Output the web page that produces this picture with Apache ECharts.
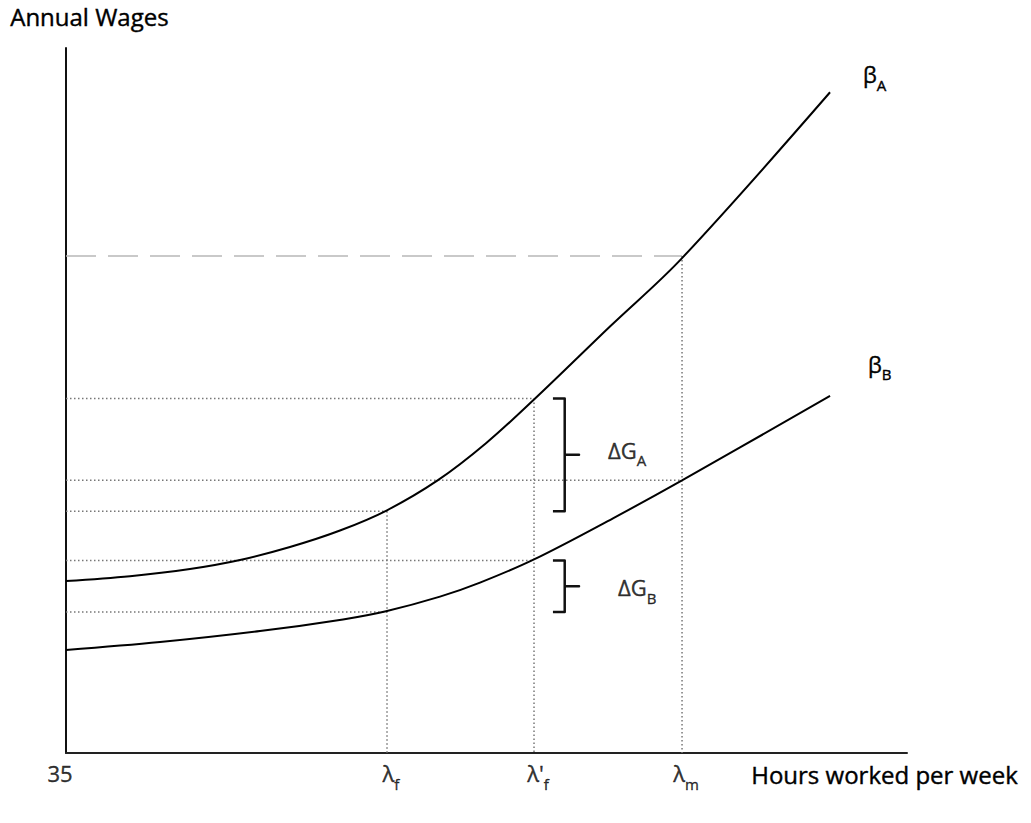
<!DOCTYPE html>
<html>
<head>
<meta charset="utf-8">
<title>Annual Wages</title>
<script src="https://cdn.jsdelivr.net/npm/echarts@6/dist/echarts.min.js"></script>
<style>
html, body { margin: 0; padding: 0; background: #fff; }
#main { width: 1031px; height: 823px; }
</style>
</head>
<body>
<div id="main"></div>
<script>
// curve points (x: hours scale 0-100, y: wage scale 0-100)
var curveAx = [0, 7.61, 14.74, 20.69, 26.63, 32.58, 38.17, 44.23, 49.94, 55.65, 64.68, 73.25, 90.85];
var curveAy = [24.40, 25.08, 26.10, 27.38, 29.22, 31.56, 34.43, 38.70, 43.94, 50.14, 60.50, 70.20, 93.72];
var curveBx = [0, 11.18, 23.07, 32.94, 38.05, 44.47, 49.23, 55.65, 65.04, 73.25, 90.85];
var curveBy = [14.61, 15.74, 17.30, 18.95, 20.11, 22.18, 24.17, 27.46, 33.29, 38.67, 50.64];

// lambda_f, lambda'_f, lambda_m on the hours axis
var lambdaX = [38.17, 55.65, 73.25];
var lambdaLabels = ['{m|λ}{s|f}', "{m|λ'}{s|f}", '{m|λ}{s|m}'];
// wage of each curve at those hours
var wageA = [34.3, 50.3, 70.5];
var wageB = [20.0, 27.3, 38.7];
var originLabel = '35';

var font = '"Open Sans", sans-serif';
// main glyphs hang from the top, subscripts sit at the bottom of a taller line
var ink = { color: '#000', textBorderColor: '#000', textBorderWidth: 0.4 };
var rich = {
	m: Object.assign({ fontSize: 22, fontFamily: font, lineHeight: 24, verticalAlign: 'top' }, ink),
	s: Object.assign({ fontSize: 15, fontFamily: font, lineHeight: 29, verticalAlign: 'bottom' }, ink)
};

function pairs(xs, ys) {
	var out = [];
	for (var i = 0; i < xs.length; i++) {
		out.push([xs[i], ys[i]]);
	}
	return out;
}

function guide(points, dashed) {
	return {
		type: 'line',
		data: points,
		symbol: 'none',
		silent: true,
		z: 1,
		lineStyle: dashed
			? { color: '#b8b8b8', width: 1.5, type: [30, 12] }
			: { color: '#777', width: 1.5, type: [1.5, 2.5] }
	};
}

// bracket drawn between the values at lambda_f and lambda'_f
var bracketX = [57.9, 59.3, 61.0];
function bracket(low, high) {
	var mid = (low + high) / 2;
	return {
		type: 'line',
		data: [[bracketX[0], high], [bracketX[1], high], [bracketX[1], mid],
			[bracketX[2], mid], [bracketX[1], mid], [bracketX[1], low], [bracketX[0], low]],
		symbol: 'none',
		silent: true,
		lineStyle: { color: '#111', width: 2.5, join: 'round' }
	};
}

function curve(xs, ys, name, off) {
	return {
		type: 'line',
		data: pairs(xs, ys),
		smooth: 0.35,
		symbol: 'none',
		z: 5,
		lineStyle: { color: '#000', width: 2 },
		endLabel: { show: true, formatter: '{m|β}{s|' + name + '}', rich: rich, color: '#000', distance: 0, offset: off }
	};
}

var series = [];
// guides to the axes
for (var i = 0; i < 3; i++) {
	series.push(guide([[0, wageA[i]], [lambdaX[i], wageA[i]]], i == 2));
	series.push(guide([[0, wageB[i]], [lambdaX[i], wageB[i]]], false));
	series.push(guide([[lambdaX[i], wageA[i]], [lambdaX[i], 0]], false));
}

series.push(curve(curveAx, curveAy, 'A', [33, -14.5]));
series.push(curve(curveBx, curveBy, 'B', [38, -28.5]));

series.push(bracket(wageA[0], wageA[1]));
series.push(bracket(wageB[0], wageB[1]));

// labels under the hours axis
var tickData = [{ value: [0, 0], label: { formatter: '{m|' + originLabel + '}', offset: [-6, 0] } }];
for (var j = 0; j < 3; j++) {
	tickData.push({ value: [lambdaX[j], 0], label: { formatter: lambdaLabels[j], offset: [4, 0] } });
}
series.push({
	type: 'scatter',
	data: tickData,
	symbolSize: 0,
	silent: true,
	label: { show: true, position: 'bottom', distance: 9, rich: rich, color: '#000' }
});

// gap labels next to the brackets
series.push({
	type: 'scatter',
	data: [
		{ value: [bracketX[2], (wageA[0] + wageA[1]) / 2], label: { formatter: '{m|ΔG}{s|A}', offset: [29, -1.5] } },
		{ value: [bracketX[2], (wageB[0] + wageB[1]) / 2], label: { formatter: '{m|ΔG}{s|B}', offset: [39, 4.5] } }
	],
	symbolSize: 0,
	silent: true,
	label: { show: true, position: 'right', distance: 0, rich: rich, color: '#000' }
});

var titleFont = '24px "Open Sans", sans-serif';
var chart = echarts.init(document.getElementById('main'), null, { renderer: 'svg' });
chart.setOption({
	animation: false,
	backgroundColor: '#fff',
	grid: { left: 66, top: 48, right: 124, bottom: 70 },
	xAxis: {
		type: 'value', min: 0, max: 100,
		axisLine: { show: true, lineStyle: { color: '#222', width: 2 } },
		axisTick: { show: false }, axisLabel: { show: false }, splitLine: { show: false }
	},
	yAxis: {
		type: 'value', min: 0, max: 100,
		axisLine: { show: true, lineStyle: { color: '#111', width: 2 } },
		axisTick: { show: false }, axisLabel: { show: false }, splitLine: { show: false }
	},
	graphic: [
		{ type: 'text', left: 10, top: 4, style: { text: 'Annual Wages', font: titleFont, fill: '#000', stroke: '#000', lineWidth: 0.4 } },
		{ type: 'text', left: 751, top: 762, style: { text: 'Hours worked per week', font: titleFont, fill: '#000', stroke: '#000', lineWidth: 0.4 } }
	],
	series: series
});
</script>
</body>
</html>
